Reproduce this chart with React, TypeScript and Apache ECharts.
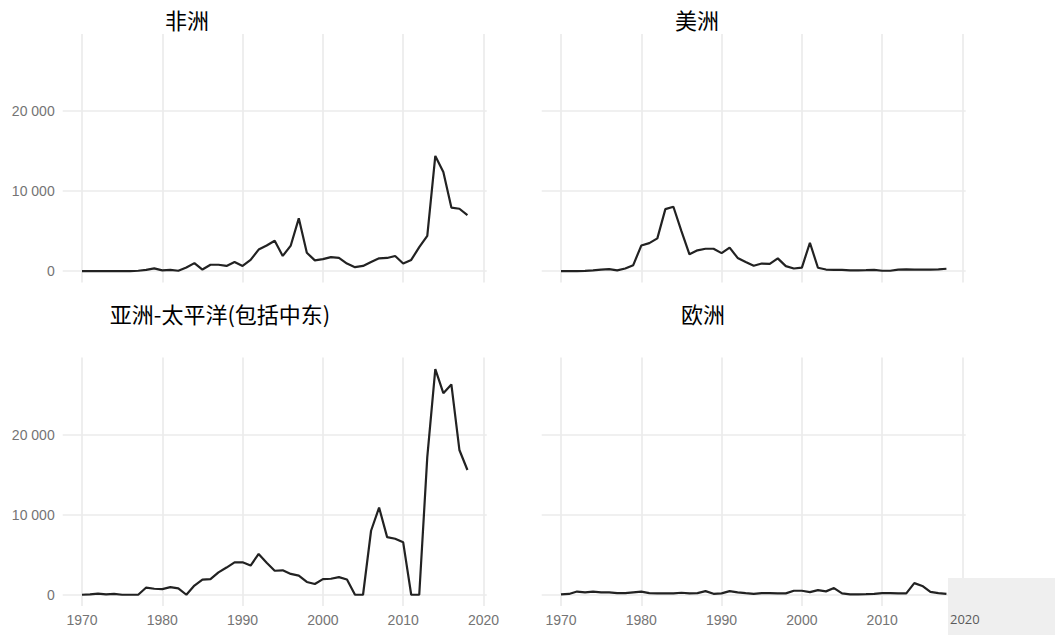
import React, { useEffect, useRef } from 'react';
import * as echarts from 'echarts';

const years = [
  1970, 1971, 1972, 1973, 1974, 1975, 1976, 1977, 1978, 1979,
  1980, 1981, 1982, 1983, 1984, 1985, 1986, 1987, 1988, 1989,
  1990, 1991, 1992, 1993, 1994, 1995, 1996, 1997, 1998, 1999,
  2000, 2001, 2002, 2003, 2004, 2005, 2006, 2007, 2008, 2009,
  2010, 2011, 2012, 2013, 2014, 2015, 2016, 2017, 2018,
];

const africa = [
  0, 0, 0, 0, 0, 0, 0, 50, 150, 350,
  100, 150, 50, 450, 1000, 200, 800, 800, 650, 1150,
  650, 1400, 2700, 3200, 3800, 1900, 3200, 6600, 2300, 1350,
  1500, 1750, 1650, 950, 500, 650, 1150, 1600, 1650, 1900,
  950, 1400, 3000, 4400, 14400, 12400, 7950, 7800, 7000,
];

const americas = [
  0, 0, 0, 30, 100, 200, 250, 100, 330, 750,
  3200, 3500, 4100, 7750, 8050, 5000, 2100, 2600, 2800, 2800,
  2250, 2950, 1650, 1150, 670, 950, 900, 1600, 630, 330,
  450, 3550, 420, 200, 150, 150, 100, 100, 120, 150,
  50, 50, 200, 220, 200, 200, 180, 220, 300,
];

const asiaPacific = [
  0, 50, 150, 50, 120, 0, 0, 0, 900, 750,
  700, 950, 800, 0, 1150, 1900, 1950, 2800, 3400, 4050,
  4050, 3650, 5100, 4000, 3000, 3050, 2600, 2400, 1600, 1350,
  1950, 2000, 2200, 1900, 0, 0, 8000, 10900, 7200, 7000,
  6550, 0, 0, 17200, 28200, 25200, 26300, 18100, 15600,
];

const europe = [
  50, 100, 400, 300, 380, 300, 300, 200, 200, 300,
  380, 200, 170, 170, 170, 250, 170, 200, 450, 120,
  170, 450, 300, 200, 120, 200, 200, 170, 170, 500,
  500, 330, 580, 420, 830, 170, 50, 50, 80, 120,
  200, 200, 170, 170, 1450, 1100, 350, 200, 100,
];

const panelTitles = ['非洲', '美洲', '亚洲-太平洋(包括中东)', '欧洲'];
const xTicks = [1970, 1980, 1990, 2000, 2010, 2020];
const yTicks = [0, 10000, 20000];
const hiddenCornerLabel = '2020';

const seriesList = [africa, americas, asiaPacific, europe];

const fmtNum = (v: number) => {
  if (v === 0) return '0';
  const th = Math.floor(v / 1000);
  const rest = String(v % 1000).padStart(3, '0');
  return `${th} ${rest}`;
};

const layout = [
  { left: 62.7, top: 34, titleX: 187, titleY: 8, showX: false, showY: true },
  { left: 541.7, top: 34, titleX: 697, titleY: 8, showX: false, showY: false },
  { left: 62.7, top: 357.6, titleX: 220, titleY: 302, showX: true, showY: true },
  { left: 541.7, top: 357.6, titleX: 703, titleY: 302, showX: true, showY: false },
];

export default function App() {
  const ref = useRef<HTMLDivElement>(null);
  useEffect(() => {
    if (!ref.current) return;
    const chart = echarts.init(ref.current, null, { renderer: 'svg' });
    const labelFont = '"Liberation Sans", Arial, sans-serif';
    const gridColor = '#ebebeb';
    const option: any = {
      animation: false,
      backgroundColor: '#ffffff',
      title: layout.map((p, i) => ({
        text: panelTitles[i],
        left: p.titleX,
        top: p.titleY,
        textAlign: 'center',
        padding: 0,
        textStyle: {
          fontSize: 22,
          fontWeight: 'normal',
          color: '#000000',
          fontFamily: '"Noto Sans CJK SC", sans-serif',
        },
      })),
      grid: layout.map((p) => ({
        left: p.left,
        top: p.top,
        width: 424,
        height: 248.5,
        containLabel: false,
      })),
      xAxis: layout.map((p, i) => ({
        type: 'value',
        gridIndex: i,
        min: 1967.6,
        max: 2020.4,
        axisLine: { show: false },
        axisTick: { show: false, customValues: xTicks },
        axisLabel: {
          show: p.showX,
          customValues: xTicks,
          color: '#747474',
          fontSize: 14,
          fontFamily: labelFont,
          margin: 7,
          formatter: (v: number) =>
            i === 3 && String(v) === hiddenCornerLabel ? '' : String(v),
        },
        splitLine: { show: true, lineStyle: { color: gridColor, width: 1.7 } },
      })),
      yAxis: layout.map((p, i) => ({
        type: 'value',
        gridIndex: i,
        min: -1420,
        max: 29650,
        axisLine: { show: false },
        axisTick: { show: false, customValues: yTicks },
        axisLabel: {
          show: p.showY,
          customValues: yTicks,
          color: '#747474',
          fontSize: 14,
          fontFamily: labelFont,
          margin: 8,
          formatter: (v: number) => fmtNum(v),
        },
        splitLine: { show: true, lineStyle: { color: gridColor, width: 1.7 } },
      })),
      series: seriesList.map((arr, i) => ({
        type: 'line',
        xAxisIndex: i,
        yAxisIndex: i,
        data: years.map((y, k) => [y, arr[k]]),
        symbol: 'none',
        showSymbol: false,
        silent: true,
        lineStyle: { color: '#222222', width: 2.2 },
      })),
      graphic: [
        {
          type: 'rect',
          z: 100,
          shape: { x: 948, y: 578, width: 107, height: 57 },
          style: { fill: '#efefef' },
        },
        {
          type: 'text',
          z: 101,
          x: 950,
          y: 619,
          style: {
            text: hiddenCornerLabel,
            fill: '#5a5a5a',
            font: '13px "Open Sans", sans-serif',
            align: 'left',
            verticalAlign: 'middle',
          },
        },
      ],
    };
    chart.setOption(option);
    return () => chart.dispose();
  }, []);
  return (
    <div
      ref={ref}
      style={{ position: 'fixed', left: 0, top: 0, width: 1055, height: 635, background: '#fff' }}
    />
  );
}
